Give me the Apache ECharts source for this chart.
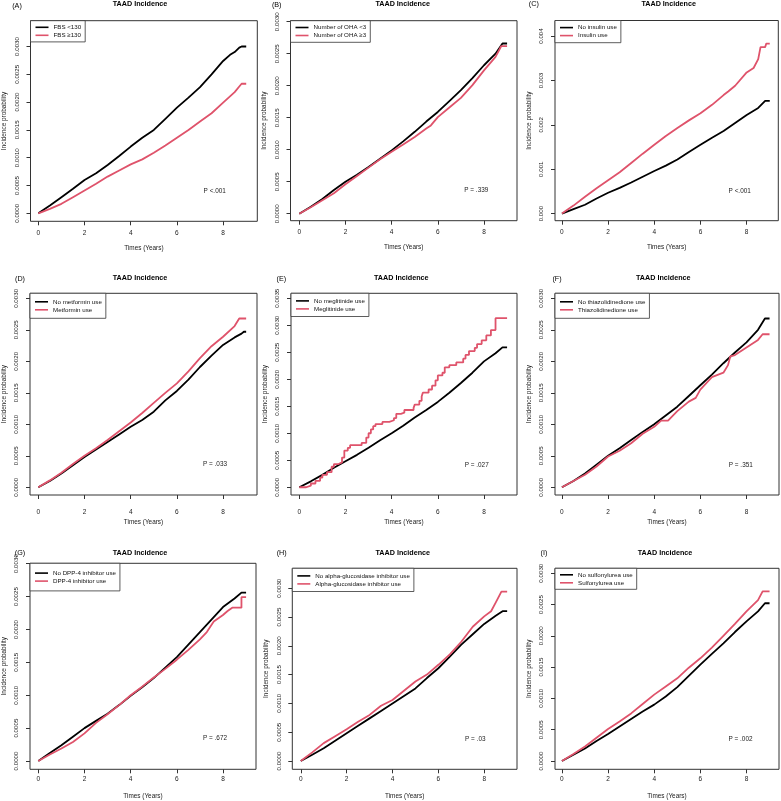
<!DOCTYPE html>
<html><head><meta charset="utf-8">
<script src="https://cdn.jsdelivr.net/npm/echarts@6/dist/echarts.min.js"></script>
<style>html,body{margin:0;padding:0;background:#fff}#c{width:781px;height:801px}</style>
</head><body><div id="c"></div>
<script>
const FONT = '"Liberation Sans", Arial, Helvetica, sans-serif';

// ---------- tick values ----------
const xTicks = [0, 2, 4, 6, 8];
const yTicks30 = [0, 0.0005, 0.001, 0.0015, 0.002, 0.0025, 0.003];
const yTicks35 = [0, 0.0005, 0.001, 0.0015, 0.002, 0.0025, 0.003, 0.0035];
const yTicksC = [0, 0.001, 0.002, 0.003, 0.004];

// ---------- texts ----------
const mainTitle = 'TAAD Incidence';
const xName = 'Times (Years)';
const yName = 'Incidence probability';
const panelLabels = ['(A)', '(B)', '(C)', '(D)', '(E)', '(F)', '(G)', '(H)', '(I)'];
const legendNames = [
  ['FBS <130', 'FBS \u2265130'],
  ['Number of OHA <3', 'Number of OHA \u22653'],
  ['No insulin use', 'Insulin use'],
  ['No metformin use', 'Metformin use'],
  ['No meglitinide use', 'Meglitinide use'],
  ['No thiazolidinedione use', 'Thiazolidinedione use'],
  ['No DPP-4 inhibitor use', 'DPP-4 inhibitor use'],
  ['No alpha-glucosidase inhibitor use', 'Alpha-glucosidase inhibitor use'],
  ['No sulfonylurea use', 'Sulfonylurea use']
];
const pTexts = ['P <.001', 'P = .339', 'P <.001', 'P = .033', 'P = .027', 'P = .351', 'P = .672', 'P = .03', 'P = .002'];

// ---------- series values [time, cumulative incidence] ----------
const A_black = [[0,0],[0.5,0.00014],[1,0.00029],[1.5,0.00044],[2,0.0006],[2.5,0.00072],[3,0.00087],[3.5,0.00103],[4,0.0012],[4.5,0.00136],[5,0.0015],[5.5,0.0017],[6,0.0019],[6.5,0.00208],[7,0.00227],[7.5,0.0025],[8,0.00274],[8.3,0.00285],[8.5,0.0029],[8.7,0.00298],[8.8,0.003],[9,0.003]];
const A_red   = [[0,0],[0.5,0.00008],[1,0.00017],[1.5,0.00029],[2,0.00041],[2.5,0.00053],[3,0.00066],[3.5,0.00077],[4,0.00088],[4.5,0.00097],[5,0.00109],[5.5,0.00122],[6,0.00136],[6.5,0.0015],[7,0.00165],[7.5,0.0018],[8,0.00199],[8.5,0.00218],[8.7,0.00228],[8.8,0.00233],[9,0.00233]];
const B_black = [[0,0],[0.5,0.00011],[1,0.00023],[1.5,0.00037],[2,0.0005],[2.5,0.00061],[3,0.00073],[3.5,0.00086],[4,0.00099],[4.5,0.00113],[5,0.00128],[5.5,0.00144],[6,0.00159],[6.5,0.00176],[7,0.00193],[7.5,0.00212],[8,0.00232],[8.5,0.0025],[8.8,0.00266],[9,0.00266]];
const B_red   = [[0,0],[0.5,0.0001],[1,0.00021],[1.5,0.00032],[2,0.00046],[2.5,0.00059],[3,0.00072],[3.5,0.00085],[4,0.00097],[4.5,0.00108],[5,0.0012],[5.5,0.00133],[5.7,0.00138],[6,0.00151],[6.5,0.00166],[7,0.00181],[7.5,0.00201],[8,0.00224],[8.5,0.00245],[8.75,0.00262],[9,0.00262]];
const C_black = [[0,0],[0.5,0.0001],[1,0.0002],[1.5,0.00034],[2,0.00047],[2.5,0.00058],[3,0.0007],[3.5,0.00083],[4,0.00096],[4.5,0.00108],[5,0.00122],[5.5,0.00139],[6,0.00155],[6.5,0.00171],[7,0.00186],[7.5,0.00204],[8,0.00222],[8.5,0.00238],[8.8,0.00254],[9,0.00254]];
const C_red   = [[0,0],[0.5,0.00018],[1,0.00038],[1.5,0.00057],[2,0.00075],[2.5,0.00093],[3,0.00114],[3.5,0.00135],[4,0.00155],[4.5,0.00175],[5,0.00193],[5.5,0.0021],[6,0.00226],[6.5,0.00245],[7,0.00267],[7.2,0.00275],[7.5,0.00288],[8,0.00318],[8.3,0.00328],[8.5,0.00348],[8.6,0.00375],[8.8,0.00375],[8.85,0.00383],[9,0.00383]];
const D_black = [[0,0],[0.5,0.0001],[1,0.00022],[1.5,0.00035],[2,0.00048],[2.5,0.0006],[3,0.00072],[3.5,0.00084],[4,0.00096],[4.5,0.00107],[5,0.0012],[5.5,0.00138],[6,0.00153],[6.5,0.00171],[7,0.00191],[7.5,0.00209],[8,0.00226],[8.5,0.00238],[8.8,0.00244],[8.9,0.00247],[9,0.00247]];
const D_red   = [[0,0],[0.5,0.00011],[1,0.00023],[1.5,0.00037],[2,0.0005],[2.5,0.00062],[3,0.00075],[3.5,0.00089],[4,0.00103],[4.5,0.00118],[5,0.00134],[5.5,0.0015],[6,0.00165],[6.5,0.00184],[7,0.00205],[7.5,0.00224],[8,0.00239],[8.5,0.00256],[8.7,0.00268],[9,0.00268]];
const E_black = [[0,0],[0.5,0.00011],[1,0.00023],[1.5,0.00036],[2,0.00048],[2.5,0.0006],[3,0.00073],[3.5,0.00087],[4,0.001],[4.5,0.00114],[5,0.00129],[5.5,0.00143],[6,0.00158],[6.5,0.00175],[7,0.00193],[7.5,0.00212],[8,0.00233],[8.5,0.00248],[8.8,0.00259],[9,0.00259]];
const E_red   = [[0,0],[0.3,0.00003],[0.5,0.00007],[0.7,0.00012],[0.9,0.00018],[1.0,0.00023],[1.2,0.00028],[1.4,0.00038],[1.5,0.00043],[1.7,0.00046],[1.85,0.00055],[1.95,0.00068],[2.1,0.00073],[2.2,0.00078],[2.7,0.00082],[2.9,0.00092],[3.0,0.001],[3.1,0.00107],[3.2,0.00113],[3.3,0.00117],[3.6,0.00121],[3.9,0.00124],[4.1,0.00128],[4.2,0.00136],[4.4,0.00138],[4.55,0.00143],[4.95,0.00147],[5.0,0.00153],[5.2,0.0016],[5.3,0.00168],[5.35,0.00175],[5.6,0.00181],[5.75,0.00188],[5.9,0.00198],[6.0,0.00207],[6.2,0.00212],[6.3,0.00222],[6.5,0.00226],[6.8,0.00231],[7.1,0.00238],[7.2,0.00245],[7.35,0.00252],[7.6,0.00258],[7.7,0.00265],[7.9,0.00272],[8.1,0.00281],[8.3,0.00291],[8.5,0.00313],[9.0,0.00313]];
const F_black = [[0,0],[0.5,0.0001],[1,0.00022],[1.5,0.00036],[2,0.0005],[2.5,0.00062],[3,0.00075],[3.5,0.00088],[4,0.001],[4.5,0.00114],[5,0.00128],[5.5,0.00145],[6,0.00162],[6.5,0.00179],[7,0.00197],[7.5,0.00214],[8,0.0023],[8.5,0.0025],[8.8,0.00268],[9,0.00268]];
const F_red   = [[0,0],[0.5,0.0001],[1,0.0002],[1.5,0.00033],[2,0.00049],[2.5,0.00058],[3,0.0007],[3.5,0.00085],[4,0.00096],[4.3,0.00106],[4.6,0.00106],[5,0.00121],[5.5,0.00136],[5.8,0.00142],[6,0.00155],[6.5,0.00175],[7,0.00182],[7.2,0.00194],[7.3,0.00208],[7.5,0.0021],[8,0.00222],[8.5,0.00234],[8.7,0.00243],[9,0.00243]];
const G_black = [[0,0],[0.5,0.00012],[1,0.00024],[1.5,0.00037],[2,0.0005],[2.5,0.00061],[3,0.00072],[3.5,0.00085],[4,0.00099],[4.5,0.00112],[5,0.00126],[5.5,0.00142],[6,0.00158],[6.5,0.00177],[7,0.00196],[7.5,0.00215],[8,0.00234],[8.5,0.00247],[8.8,0.00256],[9,0.00256]];
const G_red   = [[0,0],[0.5,0.0001],[1,0.00019],[1.5,0.00029],[2,0.00042],[2.5,0.00058],[3,0.00071],[3.5,0.00085],[4,0.001],[4.5,0.00113],[5,0.00127],[5.5,0.0014],[6,0.00154],[6.5,0.00169],[7,0.00185],[7.3,0.00196],[7.6,0.00212],[8,0.00222],[8.2,0.00228],[8.4,0.00233],[8.8,0.00233],[8.8,0.00249],[9,0.00249]];
const H_black = [[0,0],[0.5,0.00011],[1,0.00022],[1.5,0.00035],[2,0.00048],[2.5,0.00061],[3,0.00074],[3.5,0.00087],[4,0.001],[4.5,0.00113],[5,0.00126],[5.5,0.00144],[6,0.00161],[6.5,0.00181],[7,0.00202],[7.5,0.0022],[8,0.00238],[8.5,0.00252],[8.8,0.0026],[9,0.0026]];
const H_red   = [[0,0],[0.5,0.00015],[1,0.00031],[1.5,0.00043],[2,0.00055],[2.5,0.00068],[3,0.0008],[3.5,0.00096],[4,0.00106],[4.5,0.00122],[5,0.00138],[5.5,0.0015],[6,0.00167],[6.5,0.00185],[7,0.00207],[7.5,0.00233],[8,0.00251],[8.3,0.0026],[8.5,0.00275],[8.75,0.00294],[9,0.00294]];
const I_black = [[0,0],[0.5,0.0001],[1,0.0002],[1.5,0.00032],[2,0.00043],[2.5,0.00055],[3,0.00067],[3.5,0.00079],[4,0.0009],[4.5,0.00103],[5,0.00118],[5.5,0.00136],[6,0.00154],[6.5,0.00171],[7,0.00188],[7.5,0.00206],[8,0.00223],[8.5,0.00239],[8.8,0.00252],[9,0.00252]];
const I_red   = [[0,0],[0.5,0.00011],[1,0.00023],[1.5,0.00037],[2,0.00051],[2.5,0.00063],[3,0.00076],[3.5,0.00091],[4,0.00106],[4.5,0.00119],[5,0.00132],[5.5,0.00149],[6,0.00164],[6.5,0.00181],[7,0.002],[7.5,0.00219],[8,0.00239],[8.5,0.00257],[8.7,0.00271],[9,0.00271]];

const blackSeries = [A_black, B_black, C_black, D_black, E_black, F_black, G_black, H_black, I_black];
const redSeries = [A_red, B_red, C_red, D_red, E_red, F_red, G_red, H_red, I_red];
const yTickSets = [yTicks30, yTicks30, yTicksC, yTicks30, yTicks35, yTicks30, yTicks30, yTicks30, yTicks30];
const yDecimals = [4, 4, 3, 4, 4, 4, 4, 4, 4];
const redStep = [false, false, false, false, true, false, false, false, false];

// ---------- layout (pixels / axis extents) ----------
const layout = [
  {L:30.5, T:20.7, W:226.8, H:200.6, xr:[-0.34,9.48], yr:[-0.000144,0.003464], xm:8.5, lp:2.6, tx:140,   ty:4.3,   lx:17,    ly:6.5,  px:214.7, py:191},
  {L:290.5,T:20.7, W:226.5, H:200,   xr:[-0.38,9.43], yr:[-0.000109,0.003016], xm:8.5, lp:2.8, tx:402.7, ty:4.3,   lx:276.7, ly:5,    px:476.3, py:190.7},
  {L:555,  T:20.5, W:223.3, H:200.2, xr:[-0.30,9.37], yr:[-0.00016,0.00435],   xm:8.5, lp:3.1, tx:668.7, ty:4.3,   lx:533.8, ly:4.5,  px:739.7, py:191},
  {L:30,   T:293.3,W:227,   H:201.7, xr:[-0.36,9.47], yr:[-0.000122,0.00308],  xm:13.5,lp:4.5, tx:140,   ty:278.3, lx:20,    ly:279,  px:215,   py:464.3},
  {L:291,  T:293.3,W:226,   H:201.7, xr:[-0.36,9.43], yr:[-0.000143,0.00359],  xm:13.5,lp:3.6, tx:401.3, ty:278.3, lx:281.3, ly:279,  px:476.7, py:465},
  {L:555,  T:293.3,W:224,   H:201.7, xr:[-0.30,9.41], yr:[-0.000122,0.00308],  xm:13.5,lp:4.5, tx:663.3, ty:278.3, lx:557,   ly:279,  px:740.8, py:465},
  {L:30,   T:563.3,W:226,   H:206,   xr:[-0.36,9.43], yr:[-0.000126,0.003005], xm:6.5, lp:5.8, tx:140,   ty:552.7, lx:20,    ly:552.7,px:215,   py:738.3},
  {L:292.3,T:568.3,W:224.7, H:201,   xr:[-0.37,9.43], yr:[-0.000144,0.003345], xm:6.5, lp:3.6, tx:402.8, ty:552.7, lx:281.7, ly:552.7,px:475.3, py:739},
  {L:555,  T:568.3,W:224,   H:201,   xr:[-0.30,9.41], yr:[-0.000133,0.003078], xm:6.5, lp:2.5, tx:665,   ty:552.7, lx:544,   ly:552.7,px:740.5, py:739}
];

const BLACK = '#000000';
const RED = '#DF536B';
const TXT = '#222222';

const grids = [], xAxes = [], yAxes = [], series = [], legends = [], graphics = [];
layout.forEach((p, i) => {
  grids.push({left:p.L, top:p.T, width:p.W, height:p.H, show:true, borderColor:'#333', borderWidth:1, backgroundColor:'transparent', containLabel:false});
  xAxes.push({
    type:'value', gridIndex:i, min:p.xr[0], max:p.xr[1], position:'bottom',
    axisLine:{show:false, onZero:false}, splitLine:{show:false},
    axisTick:{show:true, inside:false, length:4, lineStyle:{color:'#333', width:1}, customValues:xTicks},
    axisLabel:{show:true, customValues:xTicks, margin:p.xm, fontSize:6.5, fontFamily:FONT, color:TXT, formatter:v => String(v)},
    name:xName, nameLocation:'middle', nameGap:24, nameTextStyle:{fontSize:6.4, fontFamily:FONT, color:TXT}
  });
  const dec = yDecimals[i];
  yAxes.push({
    type:'value', gridIndex:i, min:p.yr[0], max:p.yr[1], position:'left',
    axisLine:{show:false, onZero:false}, splitLine:{show:false},
    axisTick:{show:true, inside:false, length:4, lineStyle:{color:'#333', width:1}, customValues:yTickSets[i]},
    axisLabel:{show:true, customValues:yTickSets[i], rotate:90, margin:10.5, fontSize:6.2, fontFamily:FONT, color:TXT, formatter:v => Number(v).toFixed(dec)},
    name:yName, nameLocation:'middle', nameGap:23, nameTextStyle:{fontSize:6.4, fontFamily:FONT, color:TXT}
  });
  series.push({
    name:legendNames[i][0], type:'line', xAxisIndex:i, yAxisIndex:i, data:blackSeries[i],
    showSymbol:false, symbol:'none', clip:true, lineStyle:{color:BLACK, width:1.8}, itemStyle:{color:BLACK}, z:3
  });
  series.push({
    name:legendNames[i][1], type:'line', xAxisIndex:i, yAxisIndex:i, data:redSeries[i],
    step: redStep[i] ? 'end' : false,
    showSymbol:false, symbol:'none', clip:true, lineStyle:{color:RED, width:1.8}, itemStyle:{color:RED}, z:4
  });
  legends.push({
    data:legendNames[i], left:p.L, top:p.T, orient:'vertical', icon:'rect',
    itemWidth:13, itemHeight:1.6, itemGap:0, padding:[p.lp, 4, p.lp, 5],
    borderColor:'#333', borderWidth:0.8, backgroundColor:'#ffffff', selectedMode:false,
    textStyle:{fontSize:6.2, lineHeight:8, fontFamily:FONT, color:'#111'}
  });
  graphics.push({type:'text', x:p.tx, y:p.ty, style:{text:mainTitle, font:'bold 7.2px ' + FONT, fill:'#000', align:'center', verticalAlign:'middle', textAlign:'center', textVerticalAlign:'middle'}});
  graphics.push({type:'text', x:p.lx, y:p.ly, style:{text:panelLabels[i], font:'7.2px ' + FONT, fill:'#000', align:'center', verticalAlign:'middle', textAlign:'center', textVerticalAlign:'middle'}});
  graphics.push({type:'text', x:p.px, y:p.py, style:{text:pTexts[i], font:'6.4px ' + FONT, fill:TXT, align:'center', verticalAlign:'middle', textAlign:'center', textVerticalAlign:'middle'}});
});

const chart = echarts.init(document.getElementById('c'), null, {renderer:'canvas', width:781, height:801});
chart.setOption({
  animation:false,
  backgroundColor:'#ffffff',
  grid:grids, xAxis:xAxes, yAxis:yAxes, series:series, legend:legends, graphic:graphics
});
</script>
</body></html>
